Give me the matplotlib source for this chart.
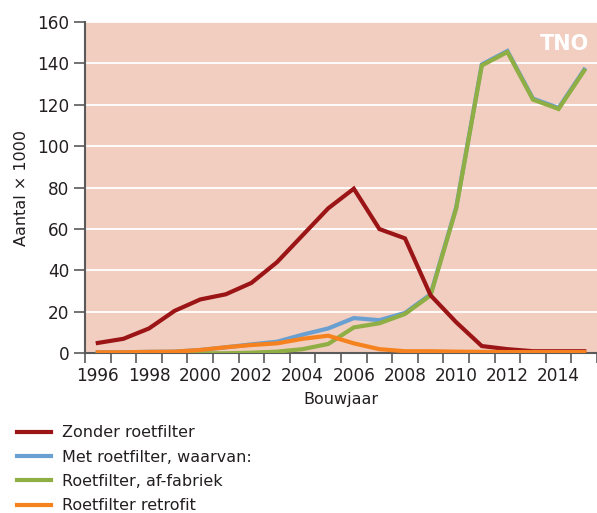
import matplotlib
matplotlib.use("Agg")
import matplotlib.pyplot as plt
import numpy as np

years = list(range(1996, 2016))
zonder = [5, 7, 12, 20.5, 26, 28.5, 34, 44, 57, 70, 79.5, 60, 55.5, 28, 15, 3.5, 2, 1, 1, 1]
met = [0.5, 0.5, 0.7, 0.8, 1.6, 2.9, 4.3, 5.6, 9, 12, 17, 16, 19.5, 28.5, 70.5, 139.5, 146, 123, 118.5, 137]
af_fabriek = [0, 0, 0, 0, 0, 0, 0.3, 0.8, 2, 4.5, 12.5, 14.5, 19, 28, 70, 139, 145.5, 122.5, 118, 136.5]
retrofit = [0.5, 0.5, 0.7, 0.8, 1.6, 2.9, 4, 4.8, 7, 8.5, 4.8, 2, 1, 1, 0.8, 0.7, 0.6, 0.6, 0.6, 0.6]

labels = ["Zonder roetfilter", "Met roetfilter, waarvan:",
          "Roetfilter, af-fabriek", "Roetfilter retrofit"]
colors = ["#9b1416", "#6a9fd2", "#8fae43", "#f5821f"]

plt.rcParams['font.family'] = ['DejaVu Sans']
text_col = "#231f20"
axis_col = "#5a5a5a"

fig = plt.figure(figsize=(5.97, 5.13), dpi=100)
ax = fig.add_axes([85 / 597, 1 - 353.3 / 513, 512 / 597, 331.3 / 513])
ax.set_facecolor("#f1cebf")

x = np.arange(len(years))
l_met, = ax.plot(x, met, color=colors[1], lw=3, solid_joinstyle="miter", zorder=3)
l_af, = ax.plot(x, af_fabriek, color=colors[2], lw=3, solid_joinstyle="miter", zorder=4)
l_z, = ax.plot(x, zonder, color=colors[0], lw=3, solid_joinstyle="miter", zorder=5)
l_r, = ax.plot(x, retrofit, color=colors[3], lw=3, solid_joinstyle="miter", zorder=6)

ax.set_xlim(-0.5, 19.45)
ax.set_ylim(0, 160)
ax.set_yticks(np.arange(0, 161, 20))
ax.yaxis.grid(True, color="white", lw=1.3)
ax.set_axisbelow(True)

# ticks sit between the years, labels on every second year
ax.set_xticks(np.arange(-0.5, 19.6, 1), minor=False)
ax.set_xticklabels([])
ax.set_xticks(x[::2], minor=True)
ax.set_xticklabels([str(y) for y in years[::2]], minor=True)
ax.tick_params(axis="x", which="major", length=7, width=1.2, color=axis_col, direction="out")
ax.tick_params(axis="x", which="minor", length=0, pad=10, labelsize=12.2, labelcolor=text_col)
ax.tick_params(axis="y", length=8, width=1.2, color=axis_col, pad=3, labelsize=12.2, labelcolor=text_col)

for s in ["top", "right"]:
    ax.spines[s].set_visible(False)
for s in ["left", "bottom"]:
    ax.spines[s].set_color(axis_col)
    ax.spines[s].set_linewidth(1.5)

ax.set_xlabel("Bouwjaar", fontsize=11.5, color=text_col, labelpad=5)
ax.set_ylabel("Aantal × 1000", fontsize=11.5, color=text_col, labelpad=6)

ax.text(0.985, 0.965, "TNO", transform=ax.transAxes, ha="right", va="top",
        color="white", fontsize=15, fontweight="heavy", family="DejaVu Sans")

fig.legend([l_z, l_met, l_af, l_r], labels, loc="upper left",
           bbox_to_anchor=(0.005, 1 - 411 / 513), frameon=False,
           fontsize=11.5, handlelength=2.1, handletextpad=0.7,
           labelspacing=0.58, labelcolor=text_col)

fig.savefig("out.png", dpi=100)
